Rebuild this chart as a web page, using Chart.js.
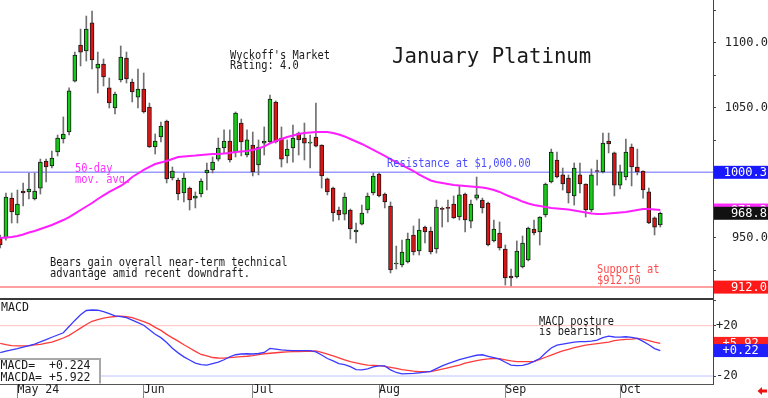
<!DOCTYPE html>
<html>
<head>
<meta charset="utf-8">
<script src="https://cdn.jsdelivr.net/npm/chart.js@4.4.1/dist/chart.umd.min.js"></script>
<style>
html, body { margin: 0; padding: 0; background: #fff; }
#wrap { position: relative; width: 768px; height: 398px; overflow: hidden; background: #fff; }
#wrap canvas { position: absolute; left: 0; top: 0; }
</style>
</head>
<body>
<div id="wrap">
    <canvas id="price" width="768" height="398"></canvas>
    <canvas id="macd" width="768" height="398"></canvas>
</div>
<script>
// daily bars, Apr 26 2024 .. Oct 10 2024 (index 0..115)
var opens = [949.8, 949.8, 980.5, 967.5, 985.9, 985.2, 979.8, 988.2, 1009.0, 1005.2,
    1015.9, 1025.9, 1031.3, 1070.5, 1098.2, 1093.6, 1115.2, 1080.5, 1083.6, 1065.2,
    1049.8, 1071.3, 1088.2, 1069.8, 1058.2, 1064.4, 1050.5, 1019.8, 1027.5, 1039.8,
    995.9, 994.4, 984.4, 988.2, 980.5, 983.6, 999.8, 1002.1, 1010.5, 1019.0,
    1024.4, 1015.9, 1038.2, 1013.6, 1021.3, 1006.0, 1022.8, 1023.6, 1054.4, 1026.7,
    1012.9, 1019.0, 1030.5, 1026.7, 1022.8, 1027.5, 1021.3, 995.2, 988.2, 971.3,
    968.2, 971.3, 954.4, 960.5, 971.3, 984.4, 999.0, 983.6, 974.4, 929.8,
    929.0, 931.3, 952.1, 939.8, 958.2, 955.1, 941.3, 972.6, 973.4, 975.9,
    965.9, 983.6, 962.8, 980.5, 979.0, 976.7, 947.5, 953.6, 941.3, 920.5,
    919.8, 927.5, 932.9, 956.7, 954.4, 967.5, 992.9, 1009.8, 998.3, 995.9,
    982.1, 998.3, 991.3, 971.3, 1001.6, 1000.6, 1024.4, 1015.2, 990.5, 996.7,
    1019.8, 1004.4, 1001.3, 985.2, 965.2, 959.8];
var highs = [952.1, 984.4, 984.4, 986.7, 992.1, 999.8, 999.8, 1010.5, 1010.5, 1016.7,
    1029.0, 1042.9, 1065.2, 1092.8, 1110.5, 1120.5, 1124.4, 1092.8, 1087.5, 1072.9,
    1062.1, 1097.5, 1092.8, 1072.1, 1079.8, 1076.7, 1053.6, 1029.8, 1039.0, 1040.5,
    1004.4, 995.9, 999.8, 989.0, 985.2, 995.2, 1007.5, 1012.1, 1026.7, 1032.9,
    1032.9, 1046.7, 1041.3, 1032.9, 1031.3, 1025.2, 1035.2, 1059.8, 1055.2, 1035.2,
    1025.2, 1036.7, 1031.3, 1038.2, 1029.0, 1053.6, 1021.5, 995.9, 989.0, 973.6,
    984.4, 972.1, 961.3, 975.1, 984.4, 999.8, 999.8, 984.4, 977.5, 943.6,
    948.2, 953.6, 959.0, 964.4, 959.0, 958.2, 979.0, 973.6, 979.0, 982.1,
    989.8, 984.4, 979.0, 996.7, 980.5, 977.5, 963.6, 962.1, 944.4, 925.9,
    947.5, 951.3, 958.2, 963.6, 966.2, 992.1, 1018.2, 1015.9, 1003.6, 998.3,
    1007.5, 1007.5, 991.5, 1002.9, 1009.8, 1030.5, 1030.5, 1015.9, 1005.9, 1025.9,
    1022.1, 1018.2, 1001.5, 988.2, 966.0, 969.8];
var lows = [942.1, 948.2, 961.3, 961.3, 974.4, 979.8, 979.0, 983.6, 992.9, 1003.6,
    1012.9, 1022.8, 1029.0, 1069.8, 1082.1, 1085.9, 1079.8, 1061.3, 1066.7, 1049.8,
    1045.2, 1069.8, 1069.0, 1054.4, 1049.8, 1045.9, 1019.4, 1014.4, 1023.6, 992.1,
    994.4, 979.0, 977.5, 971.3, 972.9, 981.3, 986.7, 999.8, 1009.0, 1015.2,
    1008.2, 1012.1, 1012.9, 1012.1, 997.5, 998.3, 1013.6, 1022.8, 1022.8, 1004.4,
    1007.5, 1008.2, 1013.6, 1009.8, 1003.6, 1019.8, 988.2, 982.9, 962.8, 963.6,
    963.6, 949.0, 945.9, 959.8, 969.0, 982.9, 981.3, 972.9, 922.9, 925.9,
    927.5, 930.5, 936.7, 936.7, 945.9, 937.5, 938.2, 958.2, 962.1, 964.8,
    963.6, 954.4, 957.5, 979.0, 969.0, 943.6, 946.7, 940.5, 913.6, 912.9,
    919.0, 926.7, 932.1, 952.1, 944.4, 965.9, 992.1, 995.9, 986.7, 976.7,
    975.1, 984.4, 965.9, 969.8, 990.5, 999.8, 1015.2, 982.1, 987.5, 994.4,
    989.8, 998.3, 980.5, 960.8, 952.1, 958.2];
var closes = [944.4, 981.3, 969.8, 975.9, 984.4, 987.5, 985.9, 1008.2, 1004.4, 1011.3,
    1026.7, 1029.8, 1062.9, 1090.5, 1092.8, 1110.5, 1086.7, 1083.6, 1073.6, 1053.6,
    1060.5, 1089.0, 1072.1, 1062.1, 1064.4, 1046.7, 1019.8, 1024.4, 1035.9, 995.2,
    1001.3, 983.6, 995.9, 979.0, 982.1, 993.6, 1002.1, 1008.2, 1019.0, 1024.4,
    1009.8, 1045.9, 1023.6, 1025.2, 1000.6, 1019.8, 1024.4, 1056.7, 1023.6, 1010.5,
    1018.2, 1026.7, 1025.2, 1022.8, 1023.6, 1020.5, 997.5, 985.2, 969.0, 967.5,
    981.3, 956.7, 955.9, 969.0, 982.1, 997.5, 982.1, 977.5, 925.2, 930.5,
    939.0, 949.0, 939.0, 955.9, 954.4, 939.0, 973.6, 971.8, 972.6, 965.2,
    982.9, 963.6, 975.9, 982.9, 972.9, 944.4, 956.7, 942.1, 919.0, 919.0,
    939.8, 945.9, 957.5, 953.6, 965.9, 991.3, 1015.9, 996.7, 991.3, 984.4,
    1003.6, 991.3, 971.3, 998.3, 1000.9, 1022.8, 1022.1, 990.5, 1000.6, 1015.9,
    1004.4, 1000.6, 986.7, 961.3, 958.2, 968.8];

// 50-day moving average as drawn
var ma50 = [949.8, 950.2, 950.5, 951.3, 952.5, 954.0, 955.2, 956.7, 958.2, 959.8,
    961.7, 963.6, 965.9, 968.6, 971.3, 974.0, 976.7, 979.8, 982.5, 985.2,
    987.5, 989.8, 992.9, 996.7, 999.4, 1002.1, 1004.4, 1006.7, 1007.9, 1009.0,
    1010.5, 1012.1, 1012.5, 1012.9, 1013.2, 1013.6, 1014.0, 1014.4, 1014.4, 1014.8,
    1015.2, 1015.9, 1016.3, 1016.7, 1017.5, 1018.6, 1020.2, 1022.5, 1024.4, 1025.9,
    1027.5, 1028.6, 1029.8, 1030.5, 1030.9, 1031.3, 1031.3, 1031.3, 1030.5, 1029.4,
    1027.9, 1025.9, 1024.0, 1022.1, 1019.8, 1017.5, 1015.2, 1012.9, 1010.5, 1008.2,
    1005.9, 1003.6, 1001.3, 998.6, 996.3, 994.0, 992.9, 992.1, 991.3, 990.5,
    990.2, 989.8, 989.4, 989.0, 988.6, 987.9, 986.7, 985.2, 983.2, 981.3,
    979.8, 977.8, 976.3, 975.2, 974.4, 973.6, 972.9, 972.5, 972.1, 971.7,
    970.9, 970.2, 969.4, 968.6, 968.2, 968.2, 968.6, 969.0, 969.4, 969.8,
    970.5, 971.3, 972.1, 972.1, 971.7, 971.3];

var macd = [-1.5, -0.3, 0.8, 1.7, 2.9, 4.1, 5.4, 7.2, 8.9, 10.8,
    12.6, 14.4, 19.4, 24.2, 28.7, 32.1, 32.5, 32.3, 31.1, 29.6,
    27.8, 27.3, 26.4, 24.4, 22.5, 20.4, 16.7, 13.2, 10.5, 6.6,
    2.1, -1.6, -4.8, -7.3, -9.8, -10.9, -11.3, -10.1, -9.0, -7.1,
    -4.7, -3.1, -2.5, -2.3, -2.5, -2.1, -1.3, 1.9, 1.3, 0.7,
    0.4, 0.1, 0.1, 0.1, 0.1, -0.9, -3.3, -6.1, -8.0, -10.1,
    -10.9, -12.5, -14.9, -15.2, -14.4, -12.8, -12.0, -12.0, -15.1, -17.2,
    -18.3, -18.1, -17.9, -17.5, -17.0, -16.3, -14.1, -12.0, -10.1, -8.5,
    -7.0, -5.7, -4.5, -3.5, -3.1, -4.3, -5.4, -6.6, -9.1, -11.3,
    -11.8, -11.6, -10.3, -8.4, -6.1, -1.7, 2.3, 4.6, 5.4, 6.2,
    6.9, 7.3, 7.3, 7.8, 8.6, 10.5, 11.7, 11.0, 10.9, 11.2,
    10.7, 9.9, 7.5, 4.8, 1.8, 0.224];
var macda = [6.0, 5.0, 4.2, 3.9, 3.9, 3.9, 4.7, 5.2, 6.2, 7.0,
    8.5, 10.2, 12.3, 15.2, 18.1, 21.0, 23.5, 24.9, 26.0, 26.8,
    27.3, 27.6, 27.1, 26.5, 24.9, 23.3, 21.4, 18.7, 16.3, 13.1,
    10.3, 7.7, 4.8, 2.3, -0.4, -2.9, -4.0, -5.3, -5.7, -5.8,
    -5.4, -5.0, -4.6, -4.3, -3.8, -3.0, -2.3, -1.9, -1.5, -1.1,
    -0.8, -0.6, -0.5, -0.4, -0.3, -0.1, -1.3, -2.7, -4.0, -5.5,
    -7.1, -8.6, -9.6, -10.5, -11.3, -11.6, -11.8, -12.3, -13.2, -14.0,
    -14.9, -15.5, -16.2, -16.6, -16.6, -16.5, -15.5, -14.5, -13.5, -12.4,
    -11.3, -9.8, -8.8, -7.8, -6.9, -6.4, -6.1, -6.2, -7.1, -8.0,
    -8.6, -8.6, -8.6, -8.5, -6.8, -5.1, -3.4, -1.6, -0.1, 1.2,
    2.6, 3.6, 4.5, 5.1, 5.7, 6.3, 7.0, 8.2, 8.7, 9.1,
    9.4, 9.9, 9.3, 8.2, 6.9, 5.922];

var monthStarts = [3, 25, 44, 66, 88, 108];
var monthLabels = ["May 24", "Jun", "Jul", "Aug", "Sep", "Oct"];

var resistance = 1000.3,
    support = 912.0,
    macdBands = [20, -20];

var X_MIN = -0.035,
    X_MAX = 124.18,
    GREEN = "#14cc14",
    RED = "#dd1414",
    MONO = '"DejaVu Sans Mono", "Liberation Mono", monospace';

function toPoints(arr) {
    return arr.map(function(v, i) {
        return { x: i, y: v };
    });
}

function level(v) {
    return [{ x: X_MIN, y: v }, { x: X_MAX, y: v }];
}

function write(ctx, str, x, y, size, sx, color) {
    ctx.save();
    ctx.translate(x, y);
    ctx.scale(sx, 1);
    ctx.font = size + "px " + MONO;
    ctx.fillStyle = color;
    ctx.textAlign = "left";
    ctx.textBaseline = "alphabetic";
    ctx.fillText(str, 0, 0);
    ctx.restore();
}

// value flag on the right axis
function tag(ctx, y, bg, str, right) {
    ctx.save();
    ctx.fillStyle = bg;
    ctx.fillRect(714, y - 6.5, 54, 13);
    ctx.fillStyle = "#fff";
    ctx.font = "12px " + MONO;
    ctx.textBaseline = "middle";
    if (right) {
        ctx.textAlign = "right";
        ctx.fillText(str, 767, y + 0.5);
    } else {
        ctx.textAlign = "left";
        ctx.fillText(str, 722.5, y + 0.5);
    }
    ctx.restore();
}

var bodies = opens.map(function(o, i) {
    return { x: i, y: [o, closes[i]] };
});
var wicks = lows.map(function(l, i) {
    return { x: i, y: [l, highs[i]] };
});

var priceNotes = {
    id: "priceNotes",
    afterDraw: function(chart) {
        var ctx = chart.ctx,
            ys = chart.scales.y,
            last = closes.length - 1;

        write(ctx, "January Platinum", 392, 63, 20.7, 1, "#1a1a1a");
        write(ctx, "Wyckoff's Market", 230, 58.5, 12, 0.865, "#1a1a1a");
        write(ctx, "Rating: 4.0", 230, 68.5, 12, 0.865, "#1a1a1a");
        write(ctx, "50-day", 75, 172.3, 12, 0.865, "#ff33ff");
        write(ctx, "mov. avg.", 75, 182.7, 12, 0.865, "#ff33ff");
        write(ctx, "Resistance at $1,000.00", 387, ys.getPixelForValue(resistance) - 5.3, 12, 0.865, "#4b4bff");
        write(ctx, "Bears gain overall near-term technical", 50, 266, 12, 0.865, "#1a1a1a");
        write(ctx, "advantage amid recent downdraft.", 50, 276.7, 12, 0.865, "#1a1a1a");
        write(ctx, "Support at", 597, ys.getPixelForValue(support) - 13.8, 12, 0.865, "#ff4b4b");
        write(ctx, "$912.50", 597, ys.getPixelForValue(support) - 3.3, 12, 0.865, "#ff4b4b");

        tag(ctx, ys.getPixelForValue(ma50[last]), "#ff2cff", ma50[last].toFixed(1), true);
        tag(ctx, ys.getPixelForValue(closes[last]), "#111", closes[last].toFixed(1), true);
        tag(ctx, ys.getPixelForValue(resistance), "#1818ff", resistance.toFixed(1), true);
        tag(ctx, ys.getPixelForValue(support), "#ff1818", support.toFixed(1), true);
    }
};

new Chart(document.getElementById("price"), {
    type: "bar",
    data: {
        datasets: [{
            type: "line",
            data: toPoints(ma50),
            borderColor: "#ff1eff",
            borderWidth: 2,
            pointRadius: 0,
            order: 0
        }, {
            data: bodies,
            backgroundColor: function(c) {
                var i = c.dataIndex;
                return closes[i] >= opens[i] ? GREEN : RED;
            },
            borderColor: "#1a1a1a",
            borderWidth: 1,
            borderSkipped: false,
            barThickness: 4,
            grouped: false,
            order: 1
        }, {
            data: wicks,
            backgroundColor: "#707070",
            borderWidth: 0,
            barThickness: 1,
            grouped: false,
            order: 2
        }, {
            type: "line",
            data: level(resistance),
            borderColor: "#9a9aff",
            borderWidth: 1.6,
            pointRadius: 0,
            order: 3
        }, {
            type: "line",
            data: level(support),
            borderColor: "#ffa0a0",
            borderWidth: 2,
            pointRadius: 0,
            order: 3
        }]
    },
    options: {
        responsive: false,
        animation: false,
        layout: { padding: { top: 0, left: 0, right: 0, bottom: 99 } },
        plugins: {
            legend: { display: false },
            tooltip: { enabled: false }
        },
        scales: {
            x: {
                type: "linear",
                min: X_MIN,
                max: X_MAX,
                offset: false,
                afterFit: function(s) {
                    s.height = 0;
                    s.paddingLeft = 0;
                    s.paddingRight = 0;
                },
                ticks: { display: false },
                grid: { drawOnChartArea: false, drawTicks: false },
                border: { color: "#3a3a3a", width: 2 }
            },
            y: {
                position: "right",
                min: 902.85,
                max: 1132.85,
                afterFit: function(s) {
                    s.width = 55;
                    s.paddingTop = 0;
                    s.paddingBottom = 0;
                },
                ticks: {
                    stepSize: 25,
                    autoSkip: false,
                    includeBounds: false,
                    crossAlign: "far",
                    padding: 8,
                    color: "#222",
                    font: { family: MONO, size: 12 },
                    callback: function(v) {
                        return (v % 50 === 0 && v !== 1000) ? v.toFixed(1) : "";
                    }
                },
                grid: { drawOnChartArea: false, tickLength: 3, color: "#444" },
                border: { color: "#444", width: 1 }
            }
        }
    },
    plugins: [priceNotes]
});

var macdNotes = {
    id: "macdNotes",
    afterDraw: function(chart) {
        var ctx = chart.ctx,
            ys = chart.scales.y,
            last = macd.length - 1;

        write(ctx, "MACD", 1, 310.7, 11.6, 1, "#1a1a1a");
        write(ctx, "MACD posture", 539, 324.8, 12, 0.865, "#1a1a1a");
        write(ctx, "is bearish", 539, 334.8, 12, 0.865, "#1a1a1a");

        // readout box
        ctx.save();
        ctx.fillStyle = "#fff";
        ctx.fillRect(0, 359, 100, 24.5);
        ctx.strokeStyle = "#a8a8a8";
        ctx.lineWidth = 2;
        ctx.beginPath();
        ctx.moveTo(0, 359);
        ctx.lineTo(100, 359);
        ctx.lineTo(100, 383.5);
        ctx.stroke();
        ctx.restore();
        write(ctx, "MACD=  +" + macd[last].toFixed(3), 0.5, 369, 11.5, 1, "#1a1a1a");
        write(ctx, "MACDA= +" + macda[last].toFixed(3), 0.5, 381, 11.5, 1, "#1a1a1a");

        tag(ctx, ys.getPixelForValue(macda[last]), "#ff2020", "+" + macda[last].toFixed(2), false);
        tag(ctx, ys.getPixelForValue(macd[last]), "#2020ff", "+" + macd[last].toFixed(2), false);

        // little red arrow bottom right
        ctx.save();
        ctx.fillStyle = "#ee1111";
        ctx.beginPath();
        ctx.moveTo(757.5, 391);
        ctx.lineTo(762, 387);
        ctx.lineTo(762, 395);
        ctx.closePath();
        ctx.fill();
        ctx.fillRect(761.5, 389.5, 5.5, 3);
        ctx.restore();
    }
};

new Chart(document.getElementById("macd"), {
    type: "line",
    data: {
        datasets: [{
            data: toPoints(macd),
            borderColor: "#3b3bff",
            borderWidth: 1.3,
            pointRadius: 0,
            order: 0
        }, {
            data: toPoints(macda),
            borderColor: "#ff3b3b",
            borderWidth: 1.3,
            pointRadius: 0,
            order: 1
        }, {
            data: level(macdBands[0]),
            borderColor: "#ffc0c0",
            borderWidth: 1,
            pointRadius: 0,
            order: 2
        }, {
            data: level(macdBands[1]),
            borderColor: "#c0c0ff",
            borderWidth: 1,
            pointRadius: 0,
            order: 2
        }]
    },
    options: {
        responsive: false,
        animation: false,
        layout: { padding: { top: 299, left: 0, right: 0, bottom: 0 } },
        plugins: {
            legend: { display: false },
            tooltip: { enabled: false }
        },
        scales: {
            x: {
                type: "linear",
                min: X_MIN,
                max: X_MAX,
                offset: false,
                afterBuildTicks: function(s) {
                    s.ticks = monthStarts.map(function(v) {
                        return { value: v };
                    });
                },
                afterFit: function(s) {
                    s.height = 14;
                    s.paddingLeft = 0;
                    s.paddingRight = 0;
                },
                ticks: {
                    autoSkip: false,
                    maxRotation: 0,
                    minRotation: 0,
                    align: "start",
                    padding: -14.5,
                    color: "#222",
                    font: { family: MONO, size: 11.6 },
                    callback: function(v, i) {
                        return monthLabels[i];
                    }
                },
                grid: { drawOnChartArea: false, tickLength: 14, color: "#888" },
                border: { color: "#555", width: 1 }
            },
            y: {
                position: "right",
                min: -26.36,
                max: 41.23,
                afterFit: function(s) {
                    s.width = 55;
                    s.paddingTop = 0;
                    s.paddingBottom = 0;
                },
                ticks: {
                    stepSize: 20,
                    autoSkip: false,
                    includeBounds: false,
                    crossAlign: "near",
                    padding: 0,
                    color: "#222",
                    font: { family: MONO, size: 12 },
                    callback: function(v) {
                        if (v === 20) return "+20";
                        if (v === -20) return "-20";
                        return "";
                    }
                },
                grid: { drawOnChartArea: false, tickLength: 3, color: "#444" },
                border: { color: "#444", width: 1 }
            }
        }
    },
    plugins: [macdNotes]
});
</script>
</body>
</html>
